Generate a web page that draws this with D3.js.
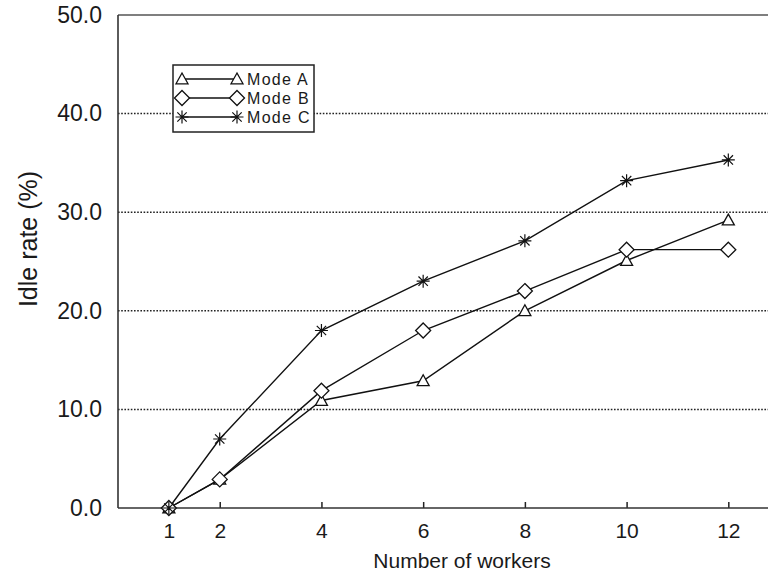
<!DOCTYPE html>
<html>
<head>
<meta charset="utf-8">
<script src="https://cdn.jsdelivr.net/npm/d3@7"></script>
<style>
  html, body { margin: 0; padding: 0; background: #fff; }
  svg { display: block; }
  text { font-family: "Liberation Sans", Arial, Helvetica, sans-serif; fill: #1a1a1a; }
</style>
</head>
<body>
<svg id="chart" width="768" height="576"></svg>
<script>
// Idle rate by number of workers for three operating modes
const workers = [1, 2, 4, 6, 8, 10, 12];
const modeA = [0, 2.9, 10.9, 12.9, 20.0, 25.1, 29.2];
const modeB = [0, 2.9, 11.9, 18.0, 22.0, 26.2, 26.2];
const modeC = [0, 7.0, 18.0, 23.0, 27.1, 33.2, 35.3];
const seriesNames = ["Mode A", "Mode B", "Mode C"];
const seriesMarkers = ["triangle", "diamond", "asterisk"];
const xTicks = [1, 2, 4, 6, 8, 10, 12];
const yTicks = [0, 10, 20, 30, 40, 50];

const series = [modeA, modeB, modeC].map((vals, i) => ({
  name: seriesNames[i],
  marker: seriesMarkers[i],
  points: workers.map((w, j) => ({ x: w, y: vals[j] }))
}));

const svg = d3.select("#chart");
const W = 768, H = 576;
const plotLeft = 118, plotTop = 15, plotBottom = 508;

const x = d3.scaleLinear().domain([0, 13]).range([plotLeft, plotLeft + 13 * 50.86]);
const y = d3.scaleLinear().domain([0, 50]).range([plotBottom, plotTop]);

// dotted horizontal gridlines
svg.append("g")
  .selectAll("line")
  .data(yTicks.filter(v => v > 0 && v < 50))
  .join("line")
  .attr("x1", plotLeft).attr("x2", W)
  .attr("y1", d => y(d)).attr("y2", d => y(d))
  .attr("stroke", "#222")
  .attr("stroke-width", 1.5)
  .attr("stroke-dasharray", "1.6,1.6");

// frame: top line, left axis, bottom axis
svg.append("line").attr("x1", plotLeft).attr("x2", W).attr("y1", plotTop).attr("y2", plotTop)
  .attr("stroke", "#555").attr("stroke-width", 1.5);

const xAxis = d3.axisBottom(x).tickValues(xTicks).tickSize(0).tickPadding(0)
  .tickFormat(d3.format("d"));
const gx = svg.append("g").attr("transform", `translate(0,${plotBottom})`).call(xAxis);
gx.select(".domain").remove();
gx.selectAll(".tick text")
  .attr("y", 30)
  .attr("dy", null)
  .style("font-size", "21px")
  .attr("fill", "#1a1a1a");
gx.selectAll(".tick").append("line")
  .attr("y1", 0).attr("y2", -6)
  .attr("stroke", "#222").attr("stroke-width", 1.5);
svg.append("line").attr("x1", plotLeft).attr("x2", W).attr("y1", plotBottom).attr("y2", plotBottom)
  .attr("stroke", "#333").attr("stroke-width", 1.6);

const yAxis = d3.axisLeft(y).tickValues(yTicks).tickSize(0).tickPadding(16)
  .tickFormat(d3.format(".1f"));
const gy = svg.append("g").attr("transform", `translate(${plotLeft},0)`).call(yAxis);
gy.select(".domain").remove();
gy.selectAll(".tick text")
  .style("font-size", "23px")
  .attr("fill", "#1a1a1a");
svg.append("line").attr("x1", plotLeft).attr("x2", plotLeft).attr("y1", plotTop).attr("y2", plotBottom)
  .attr("stroke", "#333").attr("stroke-width", 1.6);

// axis titles
svg.append("text")
  .attr("x", 462).attr("y", 568)
  .attr("text-anchor", "middle")
  .style("font-size", "21px")
  .text("Number of workers");
svg.append("text")
  .attr("transform", "translate(37,239) rotate(-90)")
  .attr("text-anchor", "middle")
  .style("font-size", "25px")
  .text("Idle rate (%)");

// marker drawing
function drawMarker(g, type, cx, cy) {
  if (type === "triangle") {
    const s = 6;
    g.append("path")
      .attr("d", `M${cx},${cy - s}L${cx + s},${cy + s * 0.8}L${cx - s},${cy + s * 0.8}Z`)
      .attr("fill", "#fff").attr("stroke", "#111").attr("stroke-width", 1.3);
  } else if (type === "diamond") {
    const s = 7.5;
    g.append("path")
      .attr("d", `M${cx},${cy - s}L${cx + s},${cy}L${cx},${cy + s}L${cx - s},${cy}Z`)
      .attr("fill", "#fff").attr("stroke", "#111").attr("stroke-width", 1.3);
  } else {
    const r = 6.5, d = r * 0.72;
    g.append("path")
      .attr("d", `M${cx},${cy - r}V${cy + r}M${cx - r},${cy}H${cx + r}` +
                 `M${cx - d},${cy - d}L${cx + d},${cy + d}M${cx - d},${cy + d}L${cx + d},${cy - d}`)
      .attr("fill", "none").attr("stroke", "#111").attr("stroke-width", 1.2);
  }
}

const line = d3.line().x(d => x(d.x)).y(d => y(d.y));
const plot = svg.append("g");
series.forEach(s => {
  plot.append("path")
    .datum(s.points)
    .attr("d", line)
    .attr("fill", "none")
    .attr("stroke", "#111")
    .attr("stroke-width", 1.4);
});
series.forEach(s => {
  const g = plot.append("g");
  s.points.forEach(p => drawMarker(g, s.marker, x(p.x), y(p.y)));
});

// legend
const lg = svg.append("g");
lg.append("rect")
  .attr("x", 173).attr("y", 65).attr("width", 141).attr("height", 67)
  .attr("fill", "#fff").attr("stroke", "#222").attr("stroke-width", 1.5);
series.forEach((s, i) => {
  const cy = 79 + i * 19;
  lg.append("line").attr("x1", 182).attr("x2", 237).attr("y1", cy).attr("y2", cy)
    .attr("stroke", "#111").attr("stroke-width", 1.3);
  drawMarker(lg, s.marker, 182, cy);
  drawMarker(lg, s.marker, 237, cy);
  lg.append("text")
    .attr("x", 247).attr("y", cy + 6)
    .style("font-size", "16px")
    .style("letter-spacing", "1.3px")
    .text(s.name);
});
</script>
</body>
</html>
